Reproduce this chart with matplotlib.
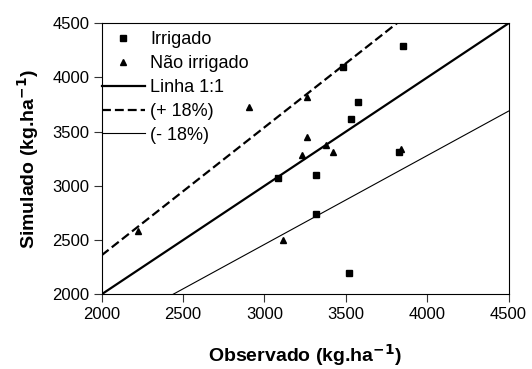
import matplotlib.pyplot as plt
import numpy as np

plt.rcParams['font.family'] = ['Liberation Sans', 'DejaVu Sans']

# Irrigado (squares)
irr_obs = [3850, 3480, 3575, 3530, 3825, 3085, 3320, 3320, 3520]
irr_sim = [4290, 4100, 3770, 3620, 3315, 3070, 3105, 2745, 2200]

# Nao irrigado (triangles)
nirr_obs = [2225, 2905, 3260, 3260, 3380, 3230, 3420, 3840, 3115]
nirr_sim = [2585, 3730, 3820, 3455, 3380, 3285, 3310, 3340, 2505]

line_x = [2000, 4500]
ticks = [2000, 2500, 3000, 3500, 4000, 4500]

fig = plt.figure(figsize=(5.32, 3.69), dpi=100)
ax = fig.add_axes([0.191, 0.2024, 0.765, 0.7345])

x = np.array(line_x, dtype=float)
ax.plot(irr_obs, irr_sim, 's', color='black', markersize=4.5, label='Irrigado', zorder=3)
ax.plot(nirr_obs, nirr_sim, '^', color='black', markersize=5, label='Não irrigado', zorder=3)
ax.plot(x, x, '-', color='black', lw=1.6, label='Linha 1:1')
ax.plot(x, 1.18 * x, '--', color='black', lw=1.6, dashes=(4, 1.8), label='(+ 18%)')
ax.plot(x, 0.82 * x, '-', color='black', lw=0.8, label='(- 18%)')

ax.set_xlim(2000, 4500)
ax.set_ylim(2000, 4500)
ax.set_xticks(ticks)
ax.set_yticks(ticks)
ax.tick_params(direction='out', length=5.8, width=0.8, labelsize=12, color='#333333', pad=3)
for s in ax.spines.values():
    s.set_linewidth(0.8)

ax.set_xlabel('Observado (kg.ha$^{\\mathbf{-1}}$)', fontsize=14, fontweight='bold', labelpad=15)
ax.set_ylabel('Simulado (kg.ha$^{\\mathbf{-1}}$)', fontsize=14, fontweight='bold', labelpad=8)

# legend sits flush with the left spine
ax.legend(loc='upper left', bbox_to_anchor=(0, 1 - 8 / 271), frameon=False, fontsize=13,
          borderpad=0, borderaxespad=0, handlelength=2.4, handletextpad=0.3,
          labelspacing=0.38)

fig.savefig('out.png', dpi=100)
plt.close(fig)
